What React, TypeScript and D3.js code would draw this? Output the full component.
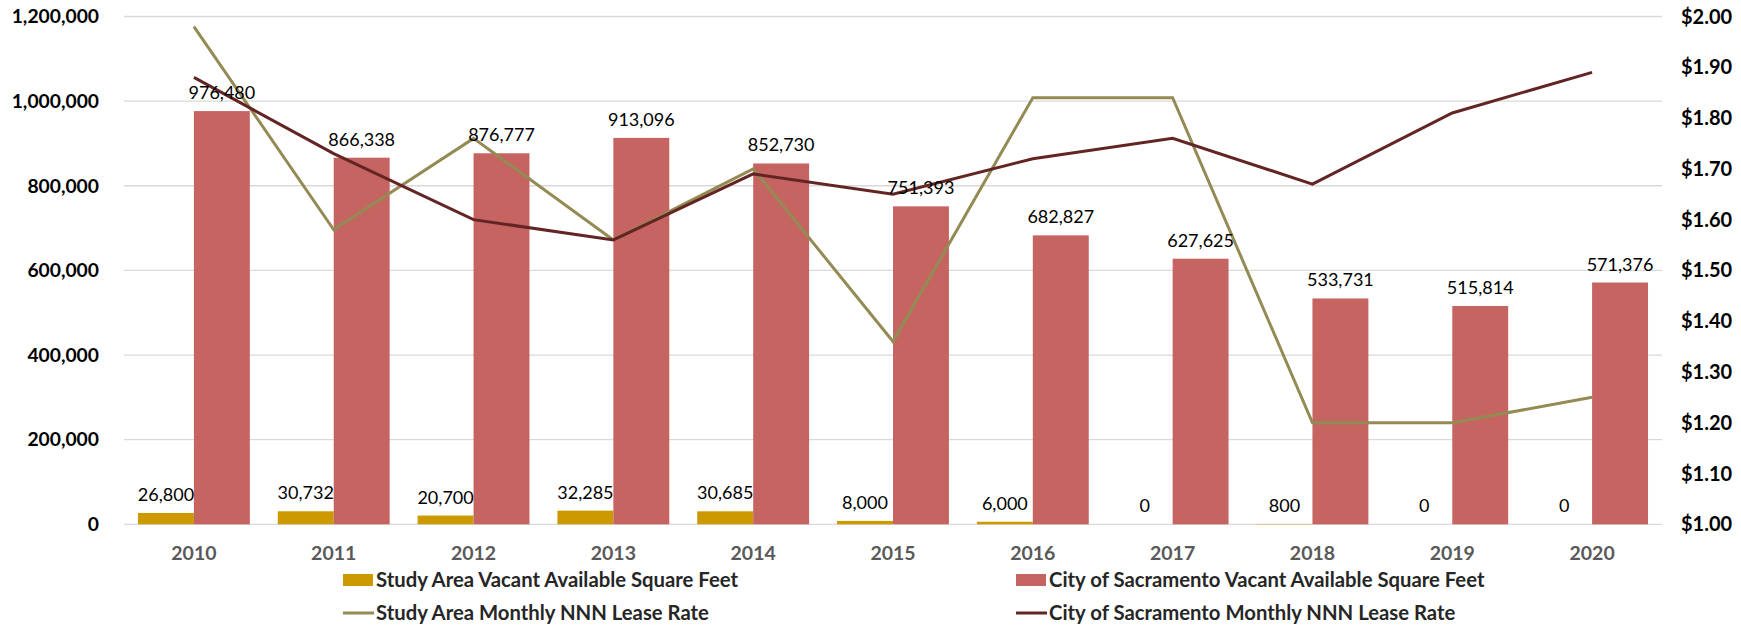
import * as d3 from "d3";

const years = ["2010", "2011", "2012", "2013", "2014", "2015", "2016", "2017", "2018", "2019", "2020"];
const studySqft = [26800, 30732, 20700, 32285, 30685, 8000, 6000, 0, 800, 0, 0];
const sacSqft = [976480, 866338, 876777, 913096, 852730, 751393, 682827, 627625, 533731, 515814, 571376];
const studyRate = [1.98, 1.58, 1.76, 1.56, 1.7, 1.36, 1.84, 1.84, 1.2, 1.2, 1.25];
const sacRate = [1.88, 1.73, 1.6, 1.56, 1.69, 1.65, 1.72, 1.76, 1.67, 1.81, 1.89];
const sqftTicks = [0, 200000, 400000, 600000, 800000, 1000000, 1200000];
const rateTicks = [1.0, 1.1, 1.2, 1.3, 1.4, 1.5, 1.6, 1.7, 1.8, 1.9, 2.0];

const W = 1741;
const H = 626;
const left = 124;
const right = 1662;
const top = 16.5;
const bottom = 524.3;

const GOLD = "#CC9900";
const ROSE = "#C66462";
const OLIVE = "#948A54";
const MAROON = "#632523";
const FONT = "Lato, 'Open Sans', sans-serif";

export default function App() {
  const x0 = d3.scaleBand().domain(years).range([left, right]).paddingInner(0.2).paddingOuter(0.1);
  const x1 = d3.scaleBand().domain(["study", "sac"]).range([0, x0.bandwidth()]);
  const y = d3.scaleLinear().domain([0, 1200000]).range([bottom, top]);
  const yR = d3.scaleLinear().domain([1, 2]).range([bottom, top]);
  const cx = (yr) => x0(yr) + x0.bandwidth() / 2;
  const fmt = d3.format(",");

  const line = d3
    .line()
    .x((d, i) => cx(years[i]))
    .y((d) => yR(d));

  const legend = [
    { label: "Study Area Vacant Available Square Feet", color: GOLD, kind: "bar", x: 343, y: 580 },
    { label: "City of Sacramento Vacant Available Square Feet", color: ROSE, kind: "bar", x: 1016, y: 580 },
    { label: "Study Area Monthly NNN Lease Rate", color: OLIVE, kind: "line", x: 343, y: 613 },
    { label: "City of Sacramento Monthly NNN Lease Rate", color: MAROON, kind: "line", x: 1016, y: 613 },
  ];

  return (
    <svg
      width={W}
      height={H}
      style={{ position: "absolute", left: 0, top: 0, background: "#fff" }}
      fontFamily={FONT}
    >
      {/* grid */}
      {sqftTicks.map((t) => (
        <line key={t} x1={left} x2={right} y1={y(t)} y2={y(t)} stroke="#D9D9D9" strokeWidth={1.3} />
      ))}

      {/* left axis */}
      {sqftTicks.map((t) => (
        <text key={t} x={99} y={y(t)} dy="0.35em" textAnchor="end" fontSize={19.3} fontWeight="bold" fill="#000">
          {fmt(t)}
        </text>
      ))}

      {/* right axis */}
      {rateTicks.map((t) => (
        <text key={t} x={1681} y={yR(t)} dy="0.35em" fontSize={20} fontWeight="bold" fill="#000">
          {"$" + t.toFixed(2)}
        </text>
      ))}

      {/* x axis labels */}
      {years.map((yr) => (
        <text key={yr} x={cx(yr)} y={553} dy="0.35em" textAnchor="middle" fontSize={19.5} fontWeight="bold" fill="#595959">
          {yr}
        </text>
      ))}

      {/* bars */}
      {years.map((yr, i) => (
        <g key={yr} transform={`translate(${x0(yr)},0)`}>
          <rect x={x1("study")} width={x1.bandwidth()} y={y(studySqft[i])} height={bottom - y(studySqft[i])} fill={GOLD} />
          <rect x={x1("sac")} width={x1.bandwidth()} y={y(sacSqft[i])} height={bottom - y(sacSqft[i])} fill={ROSE} />
        </g>
      ))}

      {/* lines */}
      <path d={line(studyRate)} fill="none" stroke={OLIVE} strokeWidth={3} />
      <path d={line(sacRate)} fill="none" stroke={MAROON} strokeWidth={3} />

      {/* data labels */}
      {years.map((yr, i) => (
        <g key={yr} fontSize={18} fill="#000" textAnchor="middle">
          <text x={x0(yr) + x1("study") + x1.bandwidth() / 2} y={y(studySqft[i]) - 12}>
            {fmt(studySqft[i])}
          </text>
          <text x={x0(yr) + x1("sac") + x1.bandwidth() / 2} y={y(sacSqft[i]) - 12}>
            {fmt(sacSqft[i])}
          </text>
        </g>
      ))}

      {/* legend */}
      {legend.map((l) => (
        <g key={l.label}>
          {l.kind === "bar" ? (
            <rect x={l.x} y={l.y - 6} width={30} height={12} fill={l.color} />
          ) : (
            <line x1={l.x} x2={l.x + 31} y1={l.y} y2={l.y} stroke={l.color} strokeWidth={3} />
          )}
          <text x={l.x + 33} y={l.y} dy="0.35em" fontSize={20.3} fontWeight="bold" fill="#262626">
            {l.label}
          </text>
        </g>
      ))}
    </svg>
  );
}
